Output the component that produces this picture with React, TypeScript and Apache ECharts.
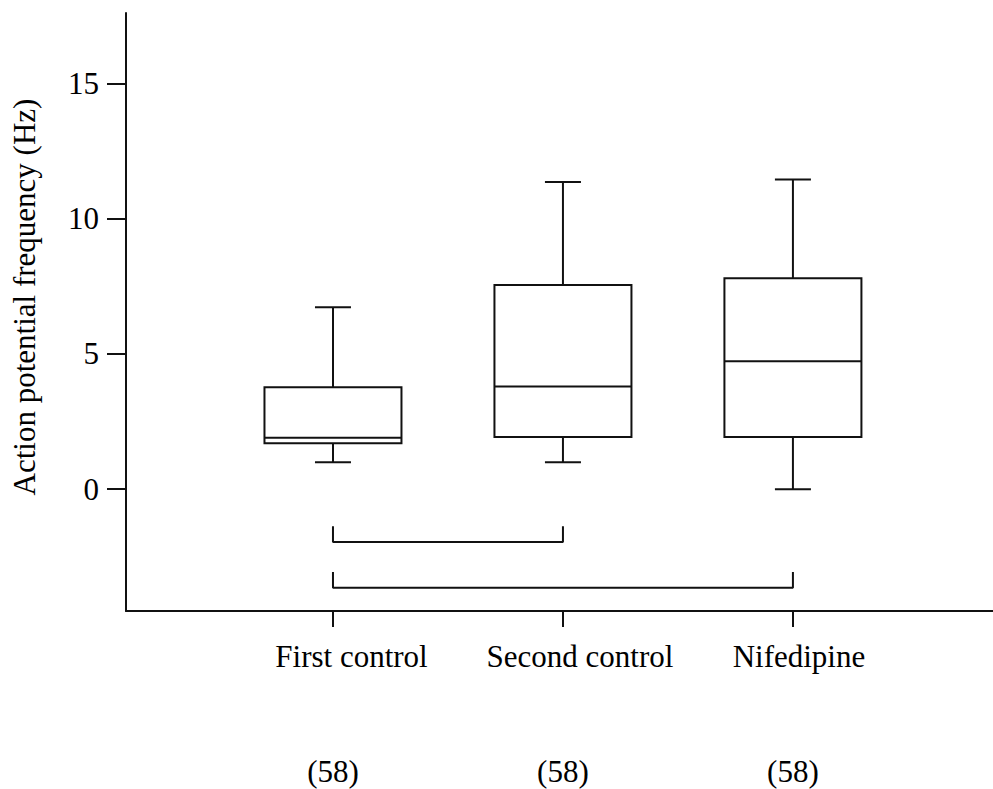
import React, { useEffect, useRef } from 'react';
import * as echarts from 'echarts';

// Group names and box-plot statistics (Hz)
const categories = ['First control', 'Second control', 'Nifedipine'];
const groupPositions = [1, 2, 3];
const whiskerLow = [1.0, 1.0, 0.0];
const quartile1 = [1.7, 1.93, 1.93];
const medians = [1.9, 3.8, 4.73];
const quartile3 = [3.77, 7.55, 7.8];
const whiskerHigh = [6.73, 11.35, 11.45];
const sampleSizes = [58, 58, 58];
const yTickValues = [0, 5, 10, 15];

// Pairwise comparison brackets: [group a, group b] and the level of each bracket
const comparisonPairs = [
  [1, 2],
  [1, 3],
];
const bracketLevels = [-1.95, -3.64];
const bracketRise = 0.58;

const INK = '#111';
const FONT = "'Liberation Serif', 'Times New Roman', serif";
const BOX_WIDTH = 137;
const CAP_WIDTH = 36;

// horizontal nudge of the group-name line under each tick
const nameShift = [37, 34, 12];

const App: React.FC = () => {
  const ref = useRef<HTMLDivElement>(null);

  useEffect(() => {
    if (!ref.current) return;
    const chart = echarts.init(ref.current, null, { renderer: 'svg' });

    const boxData = groupPositions.map((x, i) => [
      x,
      whiskerLow[i],
      quartile1[i],
      medians[i],
      quartile3[i],
      whiskerHigh[i],
    ]);

    const rich: Record<string, any> = {
      c: {
        fontFamily: FONT,
        fontSize: 31,
        color: '#000',
        lineHeight: 199,
      },
    };
    categories.forEach((_, i) => {
      rich['n' + i] = {
        fontFamily: FONT,
        fontSize: 31,
        color: '#000',
        lineHeight: 31,
        padding: [0, 0, 0, nameShift[i]],
      };
    });

    const bracketSeries = comparisonPairs.map((pair, k) => ({
      type: 'line',
      silent: true,
      symbol: 'none',
      lineStyle: { color: INK, width: 2 },
      data: [
        [pair[0], bracketLevels[k] + bracketRise],
        [pair[0], bracketLevels[k]],
        [pair[1], bracketLevels[k]],
        [pair[1], bracketLevels[k] + bracketRise],
      ],
    }));

    chart.setOption({
      animation: false,
      backgroundColor: '#fff',
      grid: { left: 126, right: 0, top: 13, bottom: 178, containLabel: false },
      xAxis: {
        type: 'value',
        min: 0.1,
        max: 3.87,
        splitLine: { show: false },
        axisLine: { show: true, onZero: false, lineStyle: { color: INK, width: 2 } },
        axisTick: {
          show: true,
          customValues: groupPositions,
          length: 16,
          lineStyle: { color: INK, width: 2 },
        },
        axisLabel: {
          customValues: groupPositions,
          margin: 30,
          formatter: (v: number) => {
            const i = groupPositions.indexOf(v);
            if (i < 0) return '';
            return `{n${i}|${categories[i]}}\n{c|(${sampleSizes[i]})}`;
          },
          rich,
        },
      },
      yAxis: {
        type: 'value',
        min: -4.5,
        max: 17.6,
        splitLine: { show: false },
        axisLine: { show: true, onZero: false, lineStyle: { color: INK, width: 2 } },
        axisTick: {
          show: true,
          customValues: yTickValues,
          length: 19,
          lineStyle: { color: INK, width: 2 },
        },
        axisLabel: {
          customValues: yTickValues,
          margin: 27,
          fontFamily: FONT,
          fontSize: 31,
          color: '#000',
        },
        name: 'Action potential frequency (Hz)',
        nameLocation: 'middle',
        nameGap: 86,
        nameTextStyle: {
          fontFamily: FONT,
          fontSize: 31,
          color: '#000',
          padding: [0, 0, 0, 30],
        },
      },
      series: [
        {
          type: 'custom',
          silent: true,
          data: boxData,
          renderItem: (_params: any, api: any) => {
            const x = api.value(0);
            const lo = api.coord([x, api.value(1)]);
            const q1 = api.coord([x, api.value(2)]);
            const md = api.coord([x, api.value(3)]);
            const q3 = api.coord([x, api.value(4)]);
            const hi = api.coord([x, api.value(5)]);
            const cx = lo[0];
            const hb = BOX_WIDTH / 2;
            const hc = CAP_WIDTH / 2;
            const stroke = { stroke: INK, lineWidth: 2 };
            return {
              type: 'group',
              children: [
                { type: 'line', shape: { x1: cx, y1: q3[1], x2: cx, y2: hi[1] }, style: stroke },
                { type: 'line', shape: { x1: cx - hc, y1: hi[1], x2: cx + hc, y2: hi[1] }, style: stroke },
                { type: 'line', shape: { x1: cx, y1: q1[1], x2: cx, y2: lo[1] }, style: stroke },
                { type: 'line', shape: { x1: cx - hc, y1: lo[1], x2: cx + hc, y2: lo[1] }, style: stroke },
                {
                  type: 'rect',
                  shape: { x: cx - hb, y: q3[1], width: BOX_WIDTH, height: q1[1] - q3[1] },
                  style: { stroke: INK, lineWidth: 2, fill: '#fff' },
                },
                { type: 'line', shape: { x1: cx - hb, y1: md[1], x2: cx + hb, y2: md[1] }, style: stroke },
              ],
            };
          },
        },
        ...bracketSeries,
      ],
    });

    return () => chart.dispose();
  }, []);

  return (
    <div
      ref={ref}
      style={{ position: 'fixed', left: 0, top: 0, width: 993, height: 789, background: '#fff' }}
    />
  );
};

export default App;
